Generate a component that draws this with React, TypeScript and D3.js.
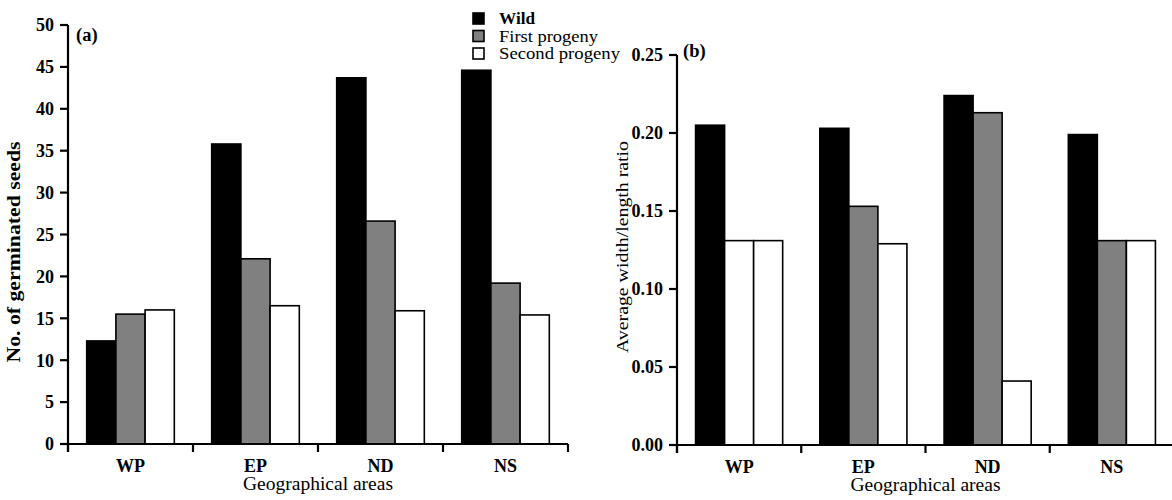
import React from "react";
import * as d3 from "d3";

const areas = ["WP", "EP", "ND", "NS"];
const seriesNames = ["Wild", "First progeny", "Second progeny"];
const seriesFill = ["#000000", "#808080", "#ffffff"];

// panel (a): number of germinated seeds
const germWild = [12.3, 35.8, 43.7, 44.6];
const germFirst = [15.5, 22.1, 26.6, 19.2];
const germSecond = [16.0, 16.5, 15.9, 15.4];

// panel (b): average width/length ratio
const ratioWild = [0.205, 0.203, 0.224, 0.199];
const ratioFirst = [0.131, 0.153, 0.213, 0.131];
const ratioSecond = [0.131, 0.129, 0.041, 0.131];

const ticksA = [0, 5, 10, 15, 20, 25, 30, 35, 40, 45, 50];
const ticksB = [0, 0.05, 0.1, 0.15, 0.2, 0.25];

const FONT = "Liberation Serif";

type PanelProps = {
  x0: number;
  x1: number;
  yTop: number;
  yBottom: number;
  yMax: number;
  ticks: number[];
  fmt: (v: number) => string;
  values: number[][];
  yTitle: string;
  title: { x: number; y: number; size: number; len: number; bold: boolean };
  tag: string;
  tagX: number;
  tagY: number;
  whiteBars?: string[]; // "area:series" drawn unfilled in the source figure
};

const Panel = (p: PanelProps) => {
  const x = d3.scaleBand().domain(areas).range([p.x0, p.x1]).padding(0);
  const sub = d3
    .scaleBand()
    .domain(seriesNames)
    .range([0, x.bandwidth()])
    .paddingInner(0)
    .paddingOuter(0.64);
  const y = d3.scaleLinear().domain([0, p.yMax]).range([p.yBottom, p.yTop]);
  const base = y(0);
  const boundaries = [...areas.map((a) => x(a) as number), p.x1];

  return (
    <g style={{ fontFamily: FONT }}>
      {areas.map((a, i) => (
        <g key={a}>
          {seriesNames.map((s, j) => {
            const v = p.values[j][i];
            const white = p.whiteBars && p.whiteBars.includes(`${a}:${j}`);
            return (
              <rect
                key={s}
                x={(x(a) as number) + (sub(s) as number)}
                y={y(v)}
                width={sub.bandwidth()}
                height={base - y(v)}
                fill={white ? "#fff" : seriesFill[j]}
                stroke="#000"
                strokeWidth={1.6}
              />
            );
          })}
          <text
            x={(x(a) as number) + x.bandwidth() / 2}
            y={base + 28}
            textAnchor="middle"
            fontSize={18}
            fontWeight="bold"
          >
            {a}
          </text>
        </g>
      ))}
      {/* x axis */}
      <line x1={p.x0} x2={p.x1} y1={base} y2={base} stroke="#000" strokeWidth={2.2} />
      {boundaries.map((b, i) => (
        <line key={i} x1={b} x2={b} y1={base} y2={base + 8} stroke="#000" strokeWidth={2.2} />
      ))}
      <text
        x={(p.x0 + p.x1) / 2}
        y={base + 46}
        textAnchor="middle"
        fontSize={18.5}
        textLength={150}
        lengthAdjust="spacingAndGlyphs"
      >
        Geographical areas
      </text>
      {/* y axis */}
      <line x1={p.x0} x2={p.x0} y1={p.yTop} y2={base + 8} stroke="#000" strokeWidth={2.2} />
      {p.ticks.map((t) => (
        <g key={t} transform={`translate(${p.x0},${y(t)})`}>
          <line x1={-8} x2={0} stroke="#000" strokeWidth={2.2} />
          <text x={-14} dy="0.35em" textAnchor="end" fontSize={18} fontWeight="bold">
            {p.fmt(t)}
          </text>
        </g>
      ))}
      <text
        transform={`translate(${p.title.x},${p.title.y}) rotate(-90)`}
        textAnchor="middle"
        fontSize={p.title.size}
        fontWeight={p.title.bold ? "bold" : "normal"}
        textLength={p.title.len}
        lengthAdjust="spacingAndGlyphs"
      >
        {p.yTitle}
      </text>
      <text x={p.tagX} y={p.tagY} fontSize={18.5} fontWeight="bold">
        {p.tag}
      </text>
    </g>
  );
};

const legendWidths = [36, 99, 121];

const App = () => {
  return (
    <svg
      width={1172}
      height={500}
      style={{ position: "absolute", left: 0, top: 0, background: "#fff" }}
    >
      <rect width={1172} height={500} fill="#fff" />
      <Panel
        x0={68}
        x1={568}
        yTop={25}
        yBottom={444}
        yMax={50}
        ticks={ticksA}
        fmt={d3.format("d")}
        values={[germWild, germFirst, germSecond]}
        yTitle="No. of germinated seeds"
        title={{ x: 20, y: 252, size: 19, len: 221, bold: true }}
        tag="(a)"
        tagX={76}
        tagY={41}
      />
      <Panel
        x0={677}
        x1={1174}
        yTop={55}
        yBottom={445}
        yMax={0.25}
        ticks={ticksB}
        fmt={d3.format(".2f")}
        values={[ratioWild, ratioFirst, ratioSecond]}
        yTitle="Average width/length ratio"
        title={{ x: 628, y: 247, size: 17.5, len: 212, bold: false }}
        tag="(b)"
        tagX={683}
        tagY={57}
        whiteBars={["WP:1"]}
      />
      {/* legend */}
      <g style={{ fontFamily: FONT }} fontSize={16.5}>
        {seriesNames.map((s, i) => (
          <g key={s} transform={`translate(473,${13 + i * 17.5})`}>
            <rect width={11} height={11} fill={seriesFill[i]} stroke="#000" strokeWidth={1.6} />
            <text
              x={26}
              y={11}
              fontWeight={i === 0 ? "bold" : "normal"}
              textLength={legendWidths[i]}
              lengthAdjust="spacingAndGlyphs"
            >
              {s}
            </text>
          </g>
        ))}
      </g>
    </svg>
  );
};

export default App;
